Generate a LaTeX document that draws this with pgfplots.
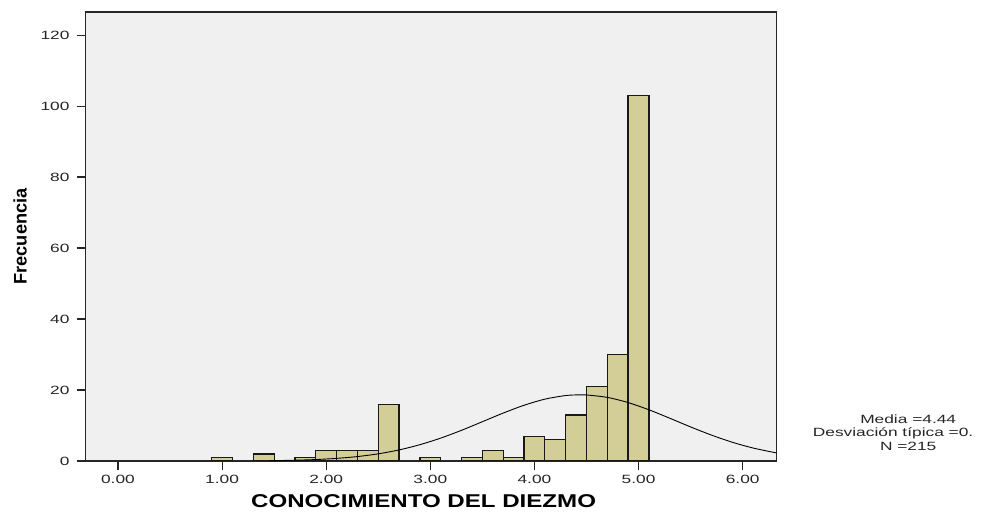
\documentclass[border=0pt]{standalone}
\usepackage{fontspec}
\setmainfont{Liberation Sans}
\newfontfamily\wide{Liberation Sans}[FakeStretch=1.45]
\newfontfamily\xlabfont{Liberation Sans}[FakeStretch=1.3]
\usepackage{pgfplots}
\pgfplotsset{compat=1.18}
\definecolor{barfill}{RGB}{211,206,152}
\definecolor{plotbg}{RGB}{240,240,240}
\begin{document}
\begin{tikzpicture}
\begin{axis}[
  at={(0,0)}, anchor=south west,
  scale only axis,
  width=691bp, height=449bp,
  xmin=-0.31, xmax=6.327,
  ymin=0, ymax=126.5,
  axis background/.style={fill=plotbg},
  axis line style={line width=1.3pt, black!85},
  tick align=outside,
  xtick pos=bottom, ytick pos=left,
  major tick length=9bp,
  tick style={line width=1.1pt, black!85},
  xtick={0,1,2,3,4,5,6},
  xticklabels={0.00,1.00,2.00,3.00,4.00,5.00,6.00},
  ytick={0,20,40,60,80,100,120},
  yticklabels={0,20,40,60,80,100,120},
  /pgf/number format/assume math mode=true,
  ticklabel style={font=\wide\fontsize{12}{14}\selectfont, text=black!85},
  xticklabel style={inner sep=0pt, anchor=north, yshift=-5bp},
  yticklabel style={inner sep=0pt, anchor=east, xshift=-7bp},
  xlabel={CONOCIMIENTO DEL DIEZMO},
  xlabel style={at={(axis description cs:0.489,-0.0902)}, anchor=center, font=\xlabfont\bfseries\fontsize{18.6}{22}\selectfont},
  ylabel={Frecuencia},
  ylabel style={at={(axis description cs:-0.0949,0.5)}, anchor=center, rotate=0, font=\bfseries\fontsize{18.3}{22}\selectfont},
  clip=true,
]
\addplot[ybar, bar width=0.2, fill=barfill, draw=black!90, line width=1.3pt] coordinates {
  (1.0,1) (1.4,2) (1.8,1) (2.0,3) (2.2,3) (2.4,3) (2.6,16)
  (3.0,1) (3.4,1) (3.6,3) (3.8,1) (4.0,7) (4.2,6) (4.4,13)
  (4.6,21) (4.8,30) (5.0,103)
};
\addplot[smooth, black, line width=0.9pt] coordinates {
  (1.46,0.09) (1.5,0.11) (1.7,0.22) (1.9,0.41) (2.1,0.74) (2.3,1.25) (2.5,2.02)
  (2.7,3.12) (2.9,4.60) (3.1,6.45) (3.3,8.65) (3.5,11.07) (3.7,13.50)
  (3.9,15.70) (4.1,17.42) (4.3,18.44) (4.44,18.65) (4.5,18.61) (4.7,17.92)
  (4.9,16.46) (5.1,14.42) (5.3,12.05) (5.5,9.60) (5.7,7.30) (5.9,5.29)
  (6.1,3.66) (6.3,2.42) (6.327,2.28)
};
\end{axis}
\begin{scope}[every node/.style={font=\wide\fontsize{12}{14}\selectfont, inner sep=0pt, text=black!85}]
\node[anchor=center] at (822.5bp,41.5bp) {Media =4.44};
\node[anchor=west] at (727bp,28bp) {Desviación típica =0.};
\node[anchor=center] at (822.5bp,15bp) {N =215};
\end{scope}
\useasboundingbox (-85.7bp,-51bp) rectangle (896.3bp,461bp);
\end{tikzpicture}
\end{document}
